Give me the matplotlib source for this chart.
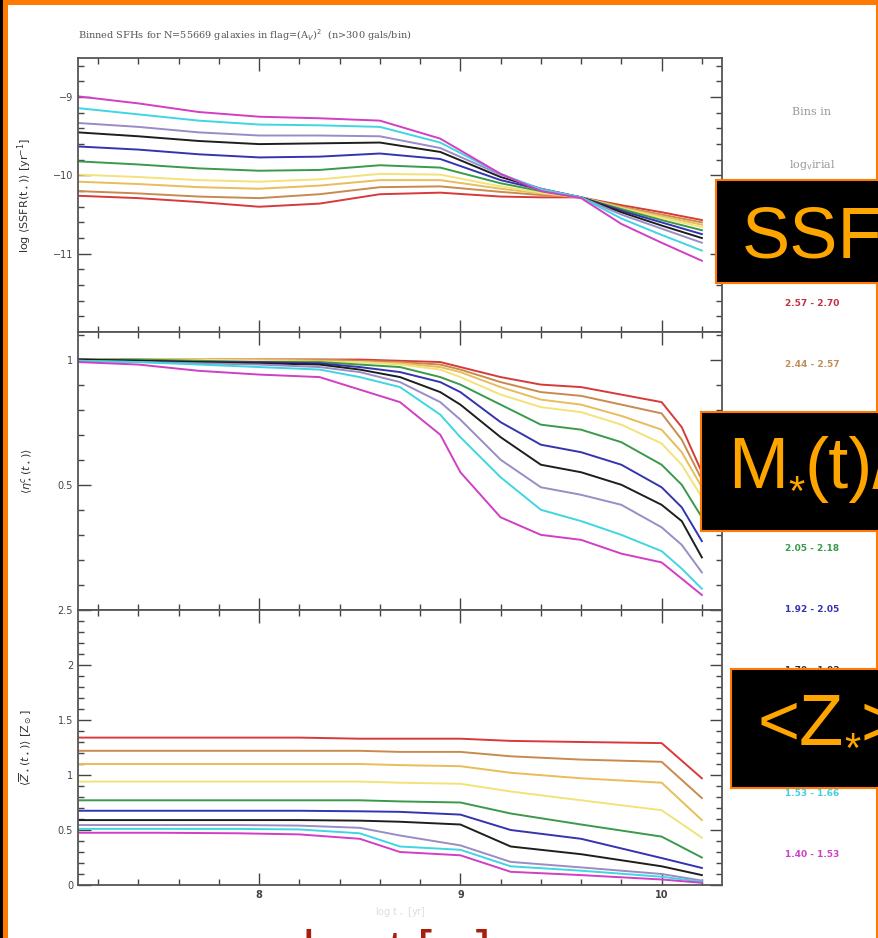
import numpy as np
import matplotlib.pyplot as plt
from matplotlib.patches import Rectangle
from matplotlib.ticker import MultipleLocator, FixedLocator

W, H = 879, 938

bins = ["2.57 - 2.70", "2.44 - 2.57", "2.31 - 2.44", "2.18 - 2.31", "2.05 - 2.18",
        "1.92 - 2.05", "1.79 - 1.92", "1.66 - 1.79", "1.53 - 1.66", "1.40 - 1.53"]
colors = ["#d83a3a", "#c98a4e", "#e8bd5a", "#f3e27a", "#3a9a4a",
          "#3434b0", "#1e1e1e", "#9a8cc4", "#3fd6e2", "#d23ec4"]
label_colors = ["#c23040", "#c0905a", "#d8a850", "#d8c850", "#3a9a4a",
                "#3434b0", "#333333", "#9a8cc4", "#40d0e0", "#d040c8"]

# log SSFR(t) per bin
t_ssfr = [7.1, 7.4, 7.7, 8.0, 8.3, 8.6, 8.9, 9.2, 9.4, 9.6, 9.8, 10.0, 10.2]
ssfr = [
    [-10.26, -10.29, -10.34, -10.40, -10.36, -10.24, -10.22, -10.27, -10.28, -10.28, -10.38, -10.47, -10.57],
    [-10.20, -10.23, -10.27, -10.29, -10.24, -10.15, -10.14, -10.21, -10.25, -10.28, -10.40, -10.50, -10.60],
    [-10.08, -10.11, -10.15, -10.17, -10.13, -10.06, -10.06, -10.17, -10.23, -10.28, -10.41, -10.52, -10.63],
    [-9.99, -10.02, -10.06, -10.08, -10.05, -9.98, -9.99, -10.14, -10.22, -10.28, -10.42, -10.54, -10.66],
    [-9.82, -9.86, -9.91, -9.94, -9.93, -9.87, -9.90, -10.10, -10.20, -10.28, -10.43, -10.57, -10.70],
    [-9.63, -9.67, -9.73, -9.77, -9.76, -9.72, -9.79, -10.06, -10.18, -10.28, -10.45, -10.60, -10.75],
    [-9.45, -9.50, -9.56, -9.60, -9.59, -9.58, -9.70, -10.02, -10.17, -10.28, -10.47, -10.64, -10.80],
    [-9.33, -9.38, -9.45, -9.49, -9.49, -9.50, -9.65, -9.99, -10.17, -10.28, -10.50, -10.68, -10.86],
    [-9.14, -9.22, -9.30, -9.35, -9.36, -9.38, -9.58, -9.98, -10.18, -10.28, -10.55, -10.76, -10.96],
    [-8.99, -9.08, -9.19, -9.25, -9.27, -9.30, -9.53, -9.98, -10.20, -10.29, -10.62, -10.86, -11.09],
]

# cumulative mass fraction eta(t) per bin
t_eta = [7.1, 7.4, 7.7, 8.0, 8.3, 8.5, 8.7, 8.9, 9.0, 9.2, 9.4, 9.6, 9.8, 10.0, 10.1, 10.2]
eta = [
    [1.0, 1.0, 1.0, 1.0, 1.0, 1.0, 0.995, 0.99, 0.97, 0.93, 0.90, 0.89, 0.86, 0.83, 0.73, 0.55],
    [1.0, 1.0, 1.0, 1.0, 1.0, 0.995, 0.99, 0.98, 0.96, 0.91, 0.87, 0.855, 0.82, 0.785, 0.68, 0.52],
    [1.0, 1.0, 1.0, 1.0, 0.995, 0.99, 0.985, 0.97, 0.95, 0.89, 0.84, 0.82, 0.775, 0.72, 0.63, 0.49],
    [1.0, 1.0, 1.0, 0.995, 0.99, 0.99, 0.98, 0.96, 0.93, 0.86, 0.81, 0.79, 0.74, 0.665, 0.58, 0.45],
    [1.0, 1.0, 0.995, 0.99, 0.99, 0.98, 0.97, 0.93, 0.90, 0.82, 0.74, 0.72, 0.67, 0.58, 0.50, 0.37],
    [1.0, 0.995, 0.99, 0.99, 0.985, 0.97, 0.95, 0.91, 0.87, 0.75, 0.66, 0.63, 0.58, 0.49, 0.41, 0.275],
    [1.0, 0.995, 0.99, 0.985, 0.98, 0.96, 0.93, 0.87, 0.82, 0.69, 0.58, 0.55, 0.50, 0.42, 0.355, 0.21],
    [0.995, 0.99, 0.985, 0.98, 0.97, 0.95, 0.91, 0.83, 0.76, 0.60, 0.49, 0.46, 0.42, 0.33, 0.26, 0.15],
    [0.995, 0.99, 0.98, 0.97, 0.96, 0.93, 0.89, 0.78, 0.69, 0.53, 0.40, 0.355, 0.30, 0.235, 0.165, 0.085],
    [0.99, 0.98, 0.955, 0.94, 0.93, 0.88, 0.83, 0.70, 0.55, 0.37, 0.30, 0.28, 0.225, 0.19, 0.125, 0.06],
]

# mean stellar metallicity Z(t) per bin, in Zsun
t_z = [7.1, 7.5, 7.9, 8.2, 8.5, 8.7, 9.0, 9.25, 9.6, 10.0, 10.2]
zmet = [
    [1.34, 1.34, 1.34, 1.34, 1.33, 1.33, 1.33, 1.31, 1.30, 1.29, 0.97],
    [1.22, 1.22, 1.22, 1.22, 1.22, 1.21, 1.21, 1.17, 1.14, 1.12, 0.79],
    [1.10, 1.10, 1.10, 1.10, 1.10, 1.09, 1.08, 1.02, 0.97, 0.93, 0.59],
    [0.94, 0.94, 0.94, 0.94, 0.94, 0.93, 0.92, 0.85, 0.77, 0.68, 0.43],
    [0.77, 0.77, 0.77, 0.77, 0.77, 0.76, 0.75, 0.65, 0.55, 0.44, 0.25],
    [0.675, 0.675, 0.675, 0.675, 0.67, 0.665, 0.64, 0.50, 0.42, 0.245, 0.155],
    [0.59, 0.59, 0.59, 0.59, 0.585, 0.575, 0.55, 0.35, 0.28, 0.17, 0.09],
    [0.545, 0.545, 0.545, 0.54, 0.52, 0.45, 0.36, 0.21, 0.16, 0.10, 0.04],
    [0.51, 0.51, 0.51, 0.505, 0.47, 0.35, 0.32, 0.17, 0.13, 0.075, 0.03],
    [0.475, 0.475, 0.47, 0.46, 0.42, 0.30, 0.27, 0.12, 0.09, 0.05, 0.02],
]


def fx(px):
    return px / W


def fy(py):
    return 1 - py / H


fig = plt.figure(figsize=(W / 100, H / 100), dpi=100)
fig.patch.set_facecolor("white")

left, right = 78, 722
panels = [(58, 332), (332, 610), (610, 885)]
axes = []
for top, bot in panels:
    ax = fig.add_axes([fx(left), fy(bot), fx(right - left), (bot - top) / H])
    axes.append(ax)

ax1, ax2, ax3 = axes
for i in range(len(bins)):
    ax1.plot(t_ssfr, ssfr[i], color=colors[i], lw=1.4)
    ax2.plot(t_eta, eta[i], color=colors[i], lw=1.4)
    ax3.plot(t_z, zmet[i], color=colors[i], lw=1.4)

ax1.set_ylim(-12, -8.5)
ax1.yaxis.set_major_locator(FixedLocator([-11, -10, -9]))
ax1.yaxis.set_minor_locator(MultipleLocator(0.2))
ax2.set_ylim(0, 1.11)
ax2.yaxis.set_major_locator(FixedLocator([0.5, 1]))
ax2.yaxis.set_minor_locator(MultipleLocator(0.1))
ax2.set_yticklabels(["0.5", "1"])
ax3.set_ylim(0, 2.5)
ax3.yaxis.set_major_locator(FixedLocator([0, 0.5, 1, 1.5, 2, 2.5]))
ax3.yaxis.set_minor_locator(MultipleLocator(0.1))
ax3.set_yticklabels(["0", "0.5", "1", "1.5", "2", "2.5"])

for ax in axes:
    ax.set_xlim(7.1, 10.3)
    ax.xaxis.set_major_locator(FixedLocator([8, 9, 10]))
    ax.xaxis.set_minor_locator(MultipleLocator(0.2))
    ax.tick_params(which="both", direction="in", top=True, right=True,
                   labelsize=7, colors="#444444", width=1.0)
    ax.tick_params(which="major", length=9)
    ax.tick_params(which="minor", length=4)
    for s in ax.spines.values():
        s.set_color("#555555")
        s.set_linewidth(1.3)
    if ax is not ax3:
        ax.tick_params(labelbottom=False)
    ax.yaxis.set_label_coords(-0.068, 0.5)

ax3.set_xticklabels(["8", "9", "10"], fontweight="bold")
ax1.set_ylabel(r"log $\langle$SSFR(t$_\star$)$\rangle$ [yr$^{-1}$]", fontsize=8, color="#333333")
ax2.set_ylabel(r"$\langle\eta^c_\star(t_\star)\rangle$", fontsize=8, color="#333333")
ax3.set_ylabel(r"$\langle\overline{Z}_\star(t_\star)\rangle$ [Z$_\odot$]", fontsize=8, color="#333333")
ax3.set_xlabel(r"log t$_\star$ [yr]", fontsize=7, color="#dddddd", labelpad=4)

fig.text(fx(78), fy(35), "Binned SFHs for N=55669 galaxies in flag=(A$_V$)$^2$  (n>300 gals/bin)",
         fontsize=7, family="DejaVu Serif", color="#555555", va="center")

# legend of velocity-dispersion bins
fig.text(fx(812), fy(112), "Bins in", fontsize=8, family="DejaVu Serif", color="#999999",
         ha="center", va="center")
fig.text(fx(812), fy(165), r"log$_{\rm v}$irial", fontsize=8, family="DejaVu Serif",
         color="#999999", ha="center", va="center")
for i, lab in enumerate(bins):
    fig.text(fx(812), fy(303 + i * 61.3), lab, fontsize=6.5, fontweight="bold",
             color=label_colors[i], ha="center", va="center")

# black callout boxes; each label is built from pieces so the asterisk stays small
orange = "#ff7a00"
boxes = [
    (716, 180, 103, 742, 257, [("SSF", 52, 0)]),
    (701, 412, 119, 728, 488, [("M", 52, 0), ("*", 30, 17), ("(t)/", 52, 0)]),
    (731, 669, 119, 758, 745, [("<Z", 52, 0), ("*", 30, 17), (">", 52, 0)]),
]
renderer = fig.canvas.get_renderer()
for x0, y0, h, tx, base, parts in boxes:
    fig.patches.append(Rectangle((fx(x0), fy(y0 + h)), fx(W - x0 + 5), h / H,
                                 transform=fig.transFigure, facecolor="black",
                                 edgecolor=orange, lw=1.5, zorder=5))
    xpos = tx
    for s, size, dy in parts:
        t = fig.text(fx(xpos), fy(base + dy), s, fontsize=size, color="#ffa500",
                     family="Liberation Sans", va="baseline", ha="left", zorder=6)
        xpos += t.get_window_extent(renderer).width

# slide frame
fig.patches.append(Rectangle((0, fy(5)), 1, 5 / H, transform=fig.transFigure,
                             facecolor=orange, edgecolor="none", zorder=7))
fig.patches.append(Rectangle((0, 0), fx(3), 1, transform=fig.transFigure,
                             facecolor="black", edgecolor="none", zorder=7))
fig.patches.append(Rectangle((fx(3), 0), fx(5), 1, transform=fig.transFigure,
                             facecolor=orange, edgecolor="none", zorder=7))
fig.patches.append(Rectangle((fx(876), 0), fx(3), 1, transform=fig.transFigure,
                             facecolor=orange, edgecolor="none", zorder=4))

fig.text(fx(303), fy(968), "log t [yr]", fontsize=38, color="#a81e0c",
         family="Liberation Sans", va="baseline", ha="left")

fig.savefig("out.png", dpi=100)
